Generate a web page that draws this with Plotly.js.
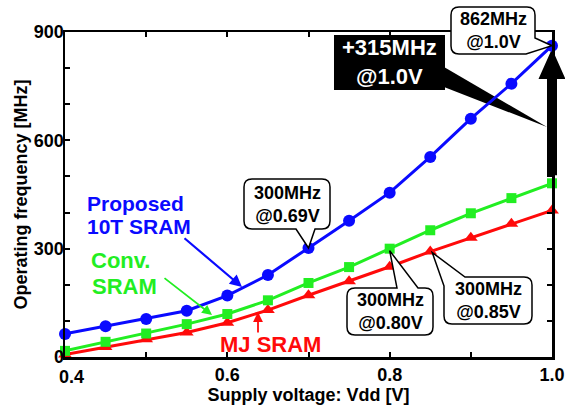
<!DOCTYPE html>
<html>
<head>
<meta charset="utf-8">
<script src="https://cdn.plot.ly/plotly-3.0.1.min.js"></script>
<style>html,body{margin:0;padding:0;background:#fff;}#chart{width:565px;height:407px;}</style>
</head>
<body>
<div id="chart"></div>
<script>
// ---- data ----
const vdd = [0.40, 0.45, 0.50, 0.55, 0.60, 0.65, 0.70, 0.75, 0.80, 0.85, 0.90, 0.95, 1.00];
const proposed10T = [64, 85, 105, 128, 170, 227, 302, 377, 455, 554, 660, 757, 862];
const convSRAM    = [17, 42, 65, 91, 119, 157, 205, 249, 300, 351, 398, 440, 481];
const mjSRAM      = [7, 28, 49, 68, 95, 130, 171, 210, 250, 292, 330, 369, 406];
// x tick labels: 0.4 sits on the left axis and is drawn nudged right (as in the reference)
const xTickVals = [0.6, 0.8, 1.0];
const xTickText = ['0.6', '0.8', '1.0'];
const xFirstTickVal = 0.4, xFirstTickText = '0.4';
const yTickVals = [0, 300, 600, 900];
const yTickText = ['0', '300', '600', '900'];

// ---- geometry ----
const W = 565, H = 407, ML = 65, MR = 13, MT = 32, MB = 50;
const PW = W - ML - MR, PH = H - MT - MB;
const XR = [0.4, 1.0], YR = [0, 900];
const FONT = 'Liberation Sans, Arial, sans-serif';
const BLUE = '#0a0aff', GREEN = '#22ee22', RED = '#ff0a0a';

function dx(x) { return ML + (x - XR[0]) / (XR[1] - XR[0]) * PW; }
function dy(y) { return MT + (1 - (y - YR[0]) / (YR[1] - YR[0])) * PH; }
function px(p) { return (p - ML) / PW; }
function py(p) { return 1 - (p - MT) / PH; }
function pathOf(cmds) {
  return cmds.map(c => {
    if (c[0] === 'Z') return 'Z';
    const out = [c[0]];
    for (let i = 1; i < c.length; i += 2) out.push(px(c[i]).toFixed(5) + ',' + py(c[i + 1]).toFixed(5));
    return out.join(' ');
  }).join(' ');
}
function pt(xs, ys, i) { return [dx(xs[i]), dy(ys[i])]; }

const shapes = [];
const boxLine = {color: 'black', width: 1.5};
function addPath(cmds, fill, line, layer) {
  shapes.push({type: 'path', xref: 'paper', yref: 'paper', path: pathOf(cmds),
    fillcolor: fill, line: line, layer: layer || 'above'});
}

// callout 300MHz@0.69V -> proposed at 0.70
(function () {
  const [ax, ay] = pt(vdd, proposed10T, 6);
  const x0 = 244, y0 = 179, x1 = 330, y1 = 229, r = 8;
  addPath([['M', x0 + r, y0], ['L', x1 - r, y0], ['Q', x1, y0, x1, y0 + r], ['L', x1, y1 - r],
    ['Q', x1, y1, x1 - r, y1], ['L', 315, y1], ['L', ax, ay], ['L', 296, y1], ['L', x0 + r, y1],
    ['Q', x0, y1, x0, y1 - r], ['L', x0, y0 + r], ['Q', x0, y0, x0 + r, y0], ['Z']], 'white', boxLine);
})();
// callout 300MHz@0.80V -> conv at 0.80
(function () {
  const [ax, ay] = pt(vdd, convSRAM, 8);
  const x0 = 347, y0 = 288, x1 = 433, y1 = 335, r = 8;
  addPath([['M', x0 + r, y0], ['L', 397, y0], ['L', ax, ay + 2], ['L', 418, y0], ['L', x1 - r, y0],
    ['Q', x1, y0, x1, y0 + r], ['L', x1, y1 - r], ['Q', x1, y1, x1 - r, y1], ['L', x0 + r, y1],
    ['Q', x0, y1, x0, y1 - r], ['L', x0, y0 + r], ['Q', x0, y0, x0 + r, y0], ['Z']], 'white', boxLine);
})();
// callout 300MHz@0.85V -> MJ at 0.85
(function () {
  const [ax, ay] = pt(vdd, mjSRAM, 9);
  const x0 = 444, y0 = 277, x1 = 532, y1 = 324, r = 8;
  addPath([['M', x0, 286], ['L', ax + 2, ay + 1], ['L', 465, y0], ['L', x1 - r, y0],
    ['Q', x1, y0, x1, y0 + r], ['L', x1, y1 - r], ['Q', x1, y1, x1 - r, y1], ['L', x0 + r, y1],
    ['Q', x0, y1, x0, y1 - r], ['Z']], 'white', boxLine);
})();
// callout 862MHz@1.0V -> proposed at 1.0
(function () {
  const [ax, ay] = pt(vdd, proposed10T, 12);
  const x0 = 451, y0 = 7, x1 = 535, y1 = 54, r = 8;
  addPath([['M', x0 + r, y0], ['L', x1 - r, y0], ['Q', x1, y0, x1, y0 + r], ['L', x1, 38],
    ['L', ax, ay], ['L', 526, y1], ['L', x0 + r, y1], ['Q', x0, y1, x0, y1 - r], ['L', x0, y0 + r],
    ['Q', x0, y0, x0 + r, y0], ['Z']], 'white', boxLine);
})();
// improvement arrow from conv(1.0) to proposed(1.0)
(function () {
  const [bx, by] = pt(vdd, proposed10T, 12);
  const [gx, gy] = pt(vdd, convSRAM, 12);
  const headBase = 79, half = 5, hw = 13.5;
  addPath([['M', bx - half, gy - 8], ['L', bx - half, headBase], ['L', bx - hw, headBase],
    ['L', bx, by + 3], ['L', bx + hw, headBase], ['L', bx + half, headBase], ['L', bx + half, gy - 8], ['Z']],
    'black', {width: 0}, 'below');
  // black label box and its wedge
  addPath([['M', 334, 35], ['L', 445, 35], ['L', 445, 90], ['L', 334, 90], ['Z']], 'black', {width: 0}, 'below');
  addPath([['M', 444, 67], ['L', bx - half, 127], ['L', 444, 87], ['Z']], 'black', {width: 0}, 'below');
})();

const annFont = (size, color) => ({family: FONT, size: size, color: color, weight: 'bold'});
const annotations = [];
function label(text, cx, cy, size, color, anchor) {
  annotations.push({xref: 'paper', yref: 'paper', x: px(cx), y: py(cy), text: text, showarrow: false,
    xanchor: anchor || 'center', yanchor: 'middle', align: anchor || 'center', font: annFont(size, color), borderpad: 0});
}
label('300MHz<br>@0.69V', 287, 204, 18, 'black');
label('300MHz<br>@0.80V', 390, 311.5, 18, 'black');
label('300MHz<br>@0.85V', 488, 300.5, 18, 'black');
label('862MHz<br>@1.0V', 493, 30.5, 18, 'black');
label('+315MHz<br>@1.0V', 389.5, 62.5, 22, 'white');
label('Proposed', 86, 203.5, 21, BLUE, 'left');
label('10T SRAM', 86, 226, 21, BLUE, 'left');
label('Conv.', 90, 260, 22, GREEN, 'left');
label('SRAM', 91, 286, 22, GREEN, 'left');
label('MJ SRAM', 219, 344, 22, RED, 'left');
// first x tick label (kept clear of the left axis corner)
label(xFirstTickText, dx(xFirstTickVal) + 6.5, 377, 18, 'black');

function arrow(hx, hy, tx, ty, color, w) {
  annotations.push({xref: 'paper', yref: 'paper', x: px(hx), y: py(hy), ax: tx - hx, ay: ty - hy,
    text: '', showarrow: true, arrowhead: 2, arrowsize: 1.1, arrowwidth: w, arrowcolor: color, standoff: 0});
}
arrow(242, 287, 183, 237, BLUE, 2.2);
arrow(212, 315, 163, 277, GREEN, 1.8);
arrow(258, 312, 258, 334, RED, 1.8);

const mk = (sym, color, size) => ({symbol: sym, color: color, size: size, line: {width: 0}});
const traces = [
  {x: vdd, y: mjSRAM, mode: 'lines+markers', line: {color: RED, width: 3}, marker: mk('triangle-up', RED, 12), cliponaxis: false},
  {x: vdd, y: convSRAM, mode: 'lines+markers', line: {color: GREEN, width: 3}, marker: mk('square', GREEN, 10), cliponaxis: false},
  {x: vdd, y: proposed10T, mode: 'lines+markers', line: {color: BLUE, width: 3}, marker: mk('circle', BLUE, 12), cliponaxis: false}
];

const axisCommon = {showline: true, linecolor: 'black', linewidth: 2.5, mirror: 'ticks', ticks: 'inside',
  ticklen: 5, tickwidth: 2, tickcolor: 'black', showgrid: false, zeroline: false, fixedrange: true,
  tickfont: annFont(18, 'black')};
const layout = {
  width: W, height: H, margin: {l: ML, r: MR, t: MT, b: MB},
  paper_bgcolor: 'white', plot_bgcolor: 'white', showlegend: false,
  font: {family: FONT},
  xaxis: Object.assign({}, axisCommon, {range: XR, tickmode: 'array', tickvals: xTickVals, ticktext: xTickText,
    minor: {dtick: 0.1, tick0: 0.4, ticks: 'inside', ticklen: 5, tickwidth: 2, tickcolor: 'black'},
    title: {text: 'Supply voltage: Vdd [V]', font: annFont(18, 'black'), standoff: 4}}),
  yaxis: Object.assign({}, axisCommon, {range: YR, tickmode: 'array', tickvals: yTickVals, ticktext: yTickText,
    ticklabelstandoff: -5,
    minor: {dtick: 100, tick0: 0, ticks: 'inside', ticklen: 5, tickwidth: 2, tickcolor: 'black'},
    title: {text: 'Operating frequency [MHz]', font: annFont(18, 'black'), standoff: 2}}),
  shapes: shapes, annotations: annotations
};
Plotly.newPlot('chart', traces, layout, {displayModeBar: false, staticPlot: true});
</script>
</body>
</html>
